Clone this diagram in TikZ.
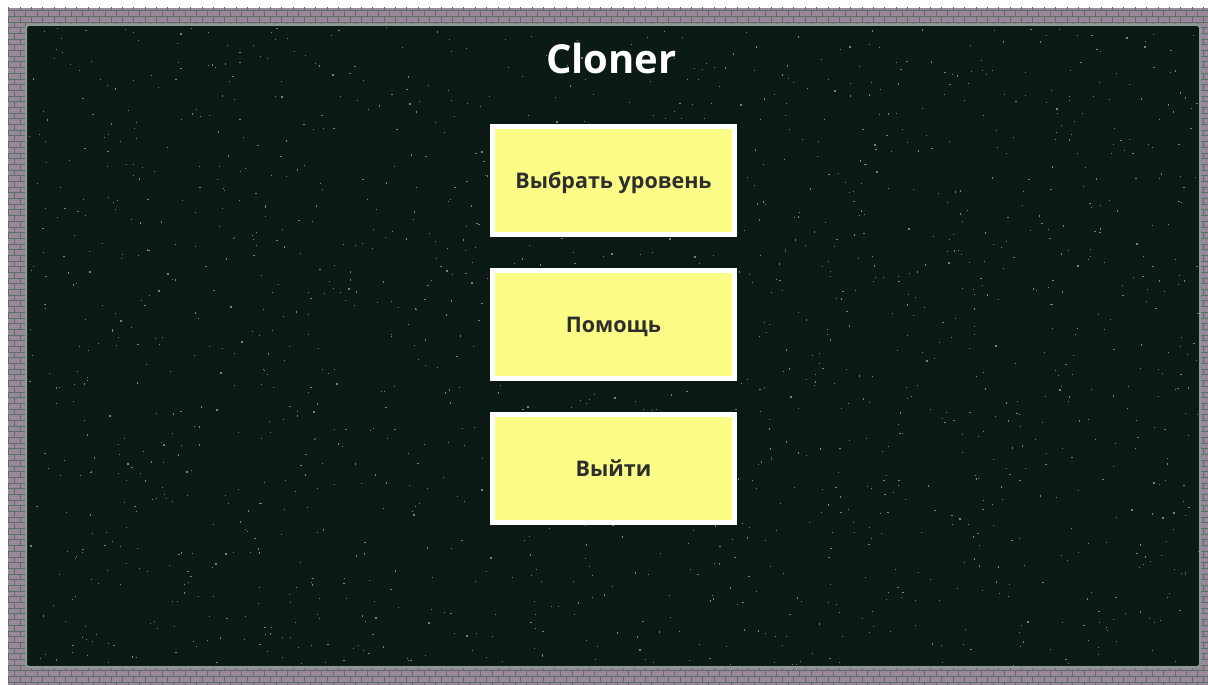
\documentclass[tikz,border=0pt]{standalone}
\usepackage{fontspec}
\setmainfont{Open Sans}
\usetikzlibrary{positioning,patterns}

\definecolor{boardbg}{HTML}{0C1A15}
\definecolor{brickfill}{HTML}{9A889A}
\definecolor{mortar}{HTML}{5A7266}
\definecolor{btnfill}{HTML}{FAFC86}
\definecolor{btntext}{HTML}{2E2E2E}
\definecolor{stardot}{HTML}{78837E}

\tikzset{
  menubtn/.style={draw=white, line width=5pt, fill=btnfill, text=btntext,
    minimum width=242pt, minimum height=108pt, inner sep=0pt,
    text height=15pt, text depth=0pt,
    font=\bfseries\fontsize{21.5}{26}\selectfont},
  titletext/.style={text=white, inner sep=0pt, text height=29pt, text depth=0pt,
    font=\bfseries\fontsize{40}{46}\selectfont}
}

\begin{document}
\begin{tikzpicture}[x=1pt,y=-1pt]
\useasboundingbox (0,0) rectangle (1208,685);
\fill[white] (0,0) rectangle (1208,685);

% brick frame
\fill[brickfill] (8,8) rectangle (1208,685);
\fill[pattern=bricks, pattern color=mortar] (8,8) rectangle (1208,685);

% board
\draw[fill=boardbg, draw=mortar!70!white, line width=2pt, rounded corners=3pt]
  (26,25) rectangle (1200,667);
\pgfmathsetseed{42}
\foreach \i in {1,...,1600}
  \fill[stardot] ({28+rnd*1170},{27+rnd*638}) rectangle +(1.2,1.2);

% title
\node[titletext] (title) at (611.5,59.5) {Cloner};

% menu
\node[menubtn] (levels) at (613.5,180.5) {Выбрать уровень};
\node[menubtn, below=31pt of levels] (help) {Помощь};
\node[menubtn, below=31pt of help] (quit) {Выйти};

\end{tikzpicture}
\end{document}
